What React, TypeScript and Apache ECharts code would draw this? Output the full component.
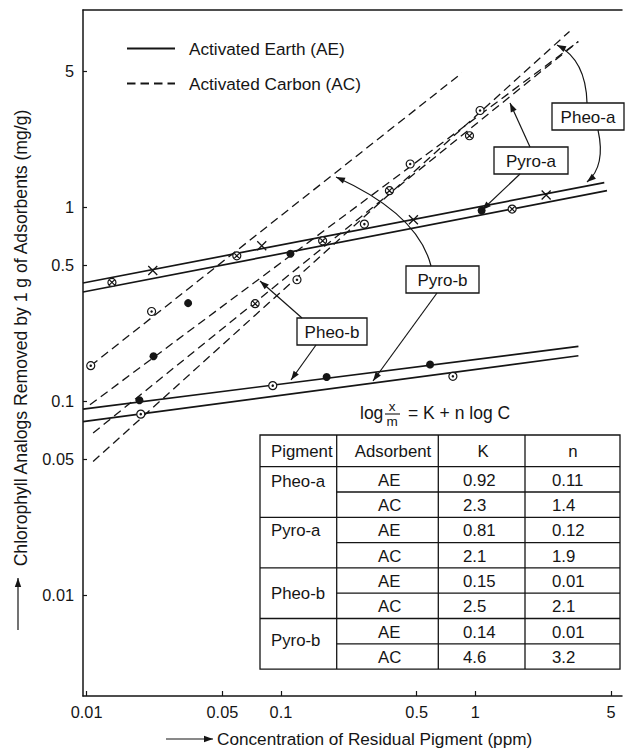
import React, { useEffect, useRef } from "react";
import * as echarts from "echarts";

const FONT = '"Liberation Sans", Arial, Helvetica, sans-serif';
const INK = "#151515";

// Axis ranges: residual pigment (ppm) and amount adsorbed (mg/g)
const X_MIN = 0.00958;
const X_MAX = 5.7;
const Y_MIN = 0.00303;
const Y_MAX = 10.3;

const xTicks = [0.01, 0.05, 0.1, 0.5, 1, 5];
const yTicks = [0.01, 0.05, 0.1, 0.5, 1, 5];

// Fitted isotherm lines, as [C, x/m] end points
const pheoA_AE = [[0.00958, 0.405], [4.62, 1.33]];
const pyroA_AE = [[0.00958, 0.364], [4.77, 1.21]];
const pheoB_AE = [[0.00958, 0.0908], [3.4, 0.191]];
const pyroB_AE = [[0.00958, 0.0784], [3.4, 0.171]];
const pyroB_AC = [[0.0105, 0.152], [0.854, 4.88]];
const pheoB_AC = [[0.0104, 0.0956], [3.39, 7.07]];
const pyroA_AC = [[0.0108, 0.0684], [3.4, 7.1]];
const pheoA_AC = [[0.0108, 0.0488], [3.06, 7.99]];

// Measured points, grouped by plotting symbol
const dotCirclePts = [
  [0.0105, 0.152], [0.0216, 0.289], [0.121, 0.421], [0.269, 0.814], [0.463, 1.66],
  [1.06, 3.13], [0.019, 0.0856], [0.0908, 0.12], [0.768, 0.134],
];
const crossCirclePts = [
  [0.0135, 0.408], [0.0593, 0.559], [0.164, 0.668], [1.55, 0.973],
  [0.0737, 0.317], [0.362, 1.21], [0.935, 2.32],
];
const crossPts = [[0.0219, 0.47], [0.0797, 0.63], [0.481, 0.857], [2.32, 1.15]];
const filledPts = [
  [0.112, 0.573], [1.08, 0.957], [0.0221, 0.17], [0.0333, 0.319],
  [0.0187, 0.101], [0.172, 0.133], [0.586, 0.154],
];
const dashPts = [[0.209, 1.69]];

// Freundlich constants table
const pigments = ["Pheo-a", "Pyro-a", "Pheo-b", "Pyro-b"];
const adsorbents = ["AE", "AC"];
const kValues = ["0.92", "2.3", "0.81", "2.1", "0.15", "2.5", "0.14", "4.6"];
const nValues = ["0.11", "1.4", "0.12", "1.9", "0.01", "2.1", "0.01", "3.2"];
const tableHeader = ["Pigment", "Adsorbent", "K", "n"];

const AE_NAME = "Activated Earth (AE)";
const AC_NAME = "Activated Carbon (AC)";

const fmt = (v: number) => String(Number(v.toPrecision(3)));

type Pt = [number, number];

function head(tip: Pt, from: Pt, len = 9, half = 3.2) {
  const dx = tip[0] - from[0];
  const dy = tip[1] - from[1];
  const d = Math.hypot(dx, dy);
  const ux = dx / d;
  const uy = dy / d;
  const bx = tip[0] - ux * len;
  const by = tip[1] - uy * len;
  return {
    type: "polygon",
    z: 100,
    shape: { points: [tip, [bx - uy * half, by + ux * half], [bx + uy * half, by - ux * half]] },
    style: { fill: INK },
  };
}

function straightArrow(from: Pt, tip: Pt, w = 1.2) {
  return [
    {
      type: "line",
      z: 100,
      shape: { x1: from[0], y1: from[1], x2: tip[0], y2: tip[1] },
      style: { stroke: INK, lineWidth: w },
    },
    head(tip, from),
  ];
}

function curvedArrow(from: Pt, ctrl: Pt, tip: Pt) {
  return [
    {
      type: "bezierCurve",
      z: 100,
      shape: { x1: from[0], y1: from[1], cpx1: ctrl[0], cpy1: ctrl[1], x2: tip[0], y2: tip[1] },
      style: { stroke: INK, lineWidth: 1.2, fill: "none" },
    },
    head(tip, ctrl),
  ];
}

function labelBox(text: string, x: number, y: number, w: number, h: number) {
  return [
    {
      type: "rect",
      z: 100,
      shape: { x, y, width: w, height: h },
      style: { fill: "#fff", stroke: INK, lineWidth: 1.3 },
    },
    {
      type: "text",
      z: 101,
      x: x + w / 2,
      y: y + h / 2 + 1,
      style: { text, font: `17px ${FONT}`, fill: INK, align: "center", verticalAlign: "middle" },
    },
  ];
}

function hLine(x1: number, x2: number, y: number, w = 1.3) {
  return { type: "line", z: 100, shape: { x1, y1: y, x2, y2: y }, style: { stroke: INK, lineWidth: w } };
}
function vLine(x: number, y1: number, y2: number, w = 1.3) {
  return { type: "line", z: 100, shape: { x1: x, y1, x2: x, y2 }, style: { stroke: INK, lineWidth: w } };
}
function txt(text: string, x: number, y: number, align = "left", size = 16.8) {
  return {
    type: "text",
    z: 101,
    x,
    y,
    style: { text, font: `${size}px ${FONT}`, fill: INK, align, verticalAlign: "middle" },
  };
}

function buildTable() {
  const cols = [260, 336.7, 438.3, 525, 620];
  const top = 435;
  const headerBottom = 466.7;
  const rowH = 25.3;
  const bottom = headerBottom + rowH * pigments.length * adsorbents.length;
  // pigment names sit a little unevenly within their row pairs
  const nameY = [481.7, 530, 593.3, 640];
  const els: any[] = [
    {
      type: "rect",
      z: 100,
      shape: { x: cols[0], y: top, width: cols[4] - cols[0], height: bottom - top },
      style: { fill: "#fff", stroke: INK, lineWidth: 1.3 },
    },
  ];
  for (let i = 1; i < 4; i++) els.push(vLine(cols[i], top, bottom));
  els.push(hLine(cols[0], cols[4], headerBottom));
  const headMid = (top + headerBottom) / 2 + 1;
  els.push(txt(tableHeader[0], 271, headMid));
  els.push(txt(tableHeader[1], 393, headMid, "center"));
  els.push(txt(tableHeader[2], 483, headMid, "center"));
  els.push(txt(tableHeader[3], 573, headMid, "center"));
  pigments.forEach((p, g) => {
    const gTop = headerBottom + g * 2 * rowH;
    if (g > 0) els.push(hLine(cols[0], cols[4], gTop));
    els.push(hLine(cols[1], cols[4], gTop + rowH));
    els.push(txt(p, 271, nameY[g]));
    adsorbents.forEach((a, r) => {
      const i = g * 2 + r;
      const mid = gTop + r * rowH + rowH / 2 + 1;
      els.push(txt(a, 378, mid));
      els.push(txt(kValues[i], 463, mid));
      els.push(txt(nValues[i], 552, mid));
    });
  });
  return els;
}

function buildGraphics() {
  const els: any[] = [];
  // axis titles with their direction arrows
  els.push({
    type: "text",
    z: 101,
    x: 21,
    y: 338,
    rotation: Math.PI / 2,
    style: {
      text: "Chlorophyll Analogs Removed by 1 g of Adsorbents (mg/g)",
      font: `17.6px ${FONT}`,
      fill: INK,
      align: "center",
      verticalAlign: "middle",
    },
  });
  els.push(...straightArrow([18, 630], [18, 578]));
  els.push({
    type: "text",
    z: 101,
    x: 217,
    y: 739,
    style: {
      text: "Concentration of Residual Pigment (ppm)",
      font: `17.2px ${FONT}`,
      fill: INK,
      align: "left",
      verticalAlign: "middle",
    },
  });
  els.push(...straightArrow([166, 739], [213, 739]));

  // pigment call-outs
  els.push(...labelBox("Pheo-a", 552, 103, 72, 27));
  els.push(...labelBox("Pyro-a", 494, 147, 74, 27));
  els.push(...labelBox("Pyro-b", 406, 266, 73, 27));
  els.push(...labelBox("Pheo-b", 297, 318, 70, 27));
  els.push(...curvedArrow([587, 103], [586, 60], [557, 45]));
  els.push(...curvedArrow([598, 130], [606, 166], [587, 182]));
  els.push(...straightArrow([530, 147], [510, 103]));
  els.push(...straightArrow([520, 174], [482, 210]));
  els.push(...curvedArrow([431, 266], [418, 214], [336, 177]));
  els.push(...straightArrow([437, 293], [373, 381]));
  els.push(...straightArrow([302, 318], [260, 281]));
  els.push(...straightArrow([316, 345], [291, 380]));

  // Freundlich equation
  els.push(txt("log", 360, 413, "left", 17.5));
  els.push(txt("x", 392, 406, "center", 13.5));
  els.push(hLine(385, 400, 414, 1.1));
  els.push(txt("m", 392, 421.5, "center", 13.5));
  els.push(txt("= K + n log C", 408, 413, "left", 17.5));

  els.push(...buildTable());
  return els;
}

function lineSeries(name: string, data: number[][], dashed: boolean) {
  return {
    type: "line",
    name,
    data,
    symbol: "none",
    silent: true,
    z: 3,
    lineStyle: dashed
      ? { color: INK, width: 1.3, type: [8.5, 5] }
      : { color: INK, width: 1.7, type: "solid" },
    itemStyle: { color: INK },
  };
}

function scatterSeries(data: number[][], symbol: string, size: number, fill: string, stroke: string, bw: number) {
  return {
    type: "scatter",
    data,
    symbol,
    symbolSize: size,
    silent: true,
    z: 5,
    itemStyle: { color: fill, borderColor: stroke, borderWidth: bw, opacity: 1 },
  };
}

const CIRCLE = "path://M10,0A10,10 0 1,1 10,20A10,10 0 1,1 10,0Z";
const CIRCLE_X = "path://M10,0A10,10 0 1,1 10,20A10,10 0 1,1 10,0ZM3,3L17,17M17,3L3,17";
const CROSS = "path://M0,0L20,20M20,0L0,20";
const DASH = "path://M0,10L20,10";

export default function App() {
  const ref = useRef<HTMLDivElement>(null);

  useEffect(() => {
    if (!ref.current) return;
    const chart = echarts.init(ref.current, undefined, { renderer: "svg" });
    const axisText = { color: INK, fontSize: 16.3, fontFamily: FONT };
    chart.setOption({
      animation: false,
      backgroundColor: "#fff",
      grid: { left: 83, right: 9, top: 10, bottom: 52, containLabel: false },
      legend: {
        orient: "vertical",
        left: 121,
        top: 35,
        itemWidth: 48,
        itemHeight: 14,
        itemGap: 18,
        selectedMode: false,
        data: [AE_NAME, AC_NAME],
        itemStyle: { opacity: 0 },
        textStyle: { color: INK, fontSize: 17.2, fontFamily: FONT, padding: [0, 0, 0, 9] },
      },
      xAxis: [
        {
          type: "log",
          logBase: 10,
          min: X_MIN,
          max: X_MAX,
          axisLine: { show: true, onZero: false, lineStyle: { color: INK, width: 1.5 } },
          axisTick: { show: true, inside: true, length: 5, customValues: xTicks, lineStyle: { color: INK, width: 1.2 } },
          axisLabel: { customValues: xTicks, formatter: fmt, margin: 8, ...axisText },
          splitLine: { show: false },
          minorTick: { show: false },
        },
        {
          type: "log",
          logBase: 10,
          min: X_MIN,
          max: X_MAX,
          position: "top",
          axisLine: { show: true, onZero: false, lineStyle: { color: INK, width: 1.5 } },
          axisTick: { show: false },
          axisLabel: { show: false },
          splitLine: { show: false },
        },
      ],
      yAxis: {
        type: "log",
        logBase: 10,
        min: Y_MIN,
        max: Y_MAX,
        axisLine: { show: true, onZero: false, lineStyle: { color: INK, width: 1.5 } },
        axisTick: { show: true, inside: true, length: 4, customValues: yTicks, lineStyle: { color: INK, width: 1.2 } },
        axisLabel: { customValues: yTicks, formatter: fmt, margin: 9, ...axisText },
        splitLine: { show: false },
        minorTick: { show: false },
      },
      series: [
        lineSeries(AE_NAME, pheoA_AE, false),
        lineSeries(AE_NAME, pyroA_AE, false),
        lineSeries(AE_NAME, pheoB_AE, false),
        lineSeries(AE_NAME, pyroB_AE, false),
        lineSeries(AC_NAME, pyroB_AC, true),
        lineSeries(AC_NAME, pheoB_AC, true),
        lineSeries(AC_NAME, pyroA_AC, true),
        lineSeries(AC_NAME, pheoA_AC, true),
        scatterSeries(dotCirclePts, CIRCLE, 8, "#fff", INK, 1.2),
        scatterSeries(dotCirclePts, "circle", 2.5, INK, INK, 0),
        scatterSeries(crossCirclePts, CIRCLE_X, 8, "#fff", INK, 1.2),
        scatterSeries(crossPts, CROSS, 9, INK, INK, 1.3),
        scatterSeries(filledPts, "circle", 8, INK, INK, 0),
        scatterSeries(dashPts, DASH, 7, INK, INK, 1.5),
      ],
      graphic: { elements: buildGraphics() },
    });
    return () => chart.dispose();
  }, []);

  return (
    <div
      ref={ref}
      style={{ position: "absolute", left: 0, top: 0, width: 631, height: 748, background: "#fff" }}
    />
  );
}
